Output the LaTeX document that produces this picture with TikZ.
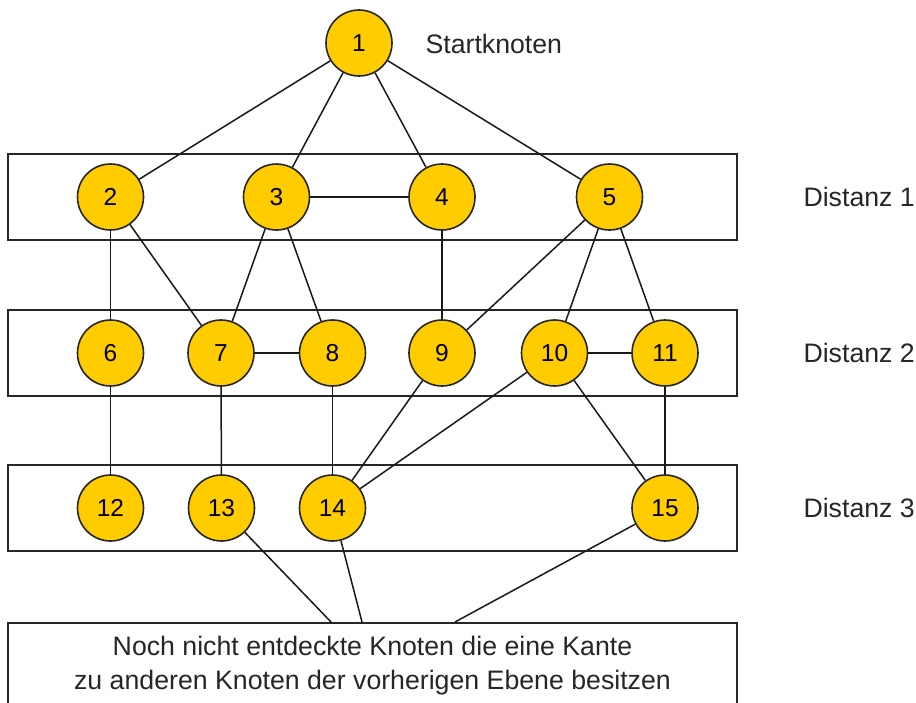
\documentclass[tikz,border=0pt]{standalone}
\usepackage{fontspec}
\setmainfont{Liberation Sans}
\begin{document}
\begin{tikzpicture}[x=1pt,y=-1pt,
  knot/.style={circle,draw=black!85,line width=1.6pt,fill=knotfill,
    minimum size=66pt,inner sep=0pt,font=\fontsize{24.5}{26}\selectfont},
  level/.style={draw=black!85,line width=1.6pt,minimum width=729pt,minimum height=86pt,inner sep=0pt},
  label/.style={font=\fontsize{26.7}{30}\selectfont,text=black!85},
  edge/.style={line width=1.5pt,draw=black!90}]
\definecolor{knotfill}{RGB}{255,204,0}
\useasboundingbox (0,0) rectangle (916,702);
\clip (0,0) rectangle (916,702);

% level boxes
\node[level] (d1) at (372.5,197) {};
\node[level] (d2) at (372.5,353) {};
\node[level] (d3) at (372.5,508) {};
\node[level,anchor=north,minimum height=100pt] (rest) at (372.5,622) {};

% labels
\node[label,anchor=west] (start) at (422,44) {Startknoten};
\node[label,anchor=west] (l1) at (800,197) {Distanz 1};
\node[label,anchor=west] (l2) at (800,353) {Distanz 2};
\node[label,anchor=west] (l3) at (800,508) {Distanz 3};
\node[label,align=center,font=\fontsize{26.7}{34}\selectfont] (resttext) at (372.5,666)
  {Noch nicht entdeckte Knoten die eine Kante\\zu anderen Knoten der vorherigen Ebene besitzen};

% vertices
\node[knot] (n1) at (359,43) {1};
\node[knot] (n2) at (110.5,197) {2};
\node[knot] (n3) at (276.5,197) {3};
\node[knot] (n4) at (442,197) {4};
\node[knot] (n5) at (609.5,197) {5};
\node[knot] (n6) at (110.5,353) {6};
\node[knot] (n7) at (221,353) {7};
\node[knot] (n8) at (332.5,353) {8};
\node[knot] (n9) at (442,353) {9};
\node[knot] (n10) at (554.5,353) {10};
\node[knot] (n11) at (665,353) {11};
\node[knot] (n12) at (110.5,508) {12};
\node[knot] (n13) at (221.5,508) {13};
\node[knot] (n14) at (332.5,508) {14};
\node[knot] (n15) at (665,508) {15};

% free ends on the lower box
\coordinate (r13) at (331,622);
\coordinate (r14) at (362,622);
\coordinate (r15) at (455,622);

% edges
\foreach \a/\b in {n1/n2,n1/n3,n1/n4,n1/n5,n3/n4,
  n2/n6,n2/n7,n3/n7,n3/n8,n4/n9,n5/n9,n5/n10,n5/n11,
  n7/n8,n10/n11,
  n6/n12,n7/n13,n8/n14,n9/n14,n10/n14,n10/n15,n11/n15}
  \draw[edge] (\a) -- (\b);
\draw[edge] (n13) -- (r13);
\draw[edge] (n14) -- (r14);
\draw[edge] (n15) -- (r15);
\end{tikzpicture}
\end{document}
